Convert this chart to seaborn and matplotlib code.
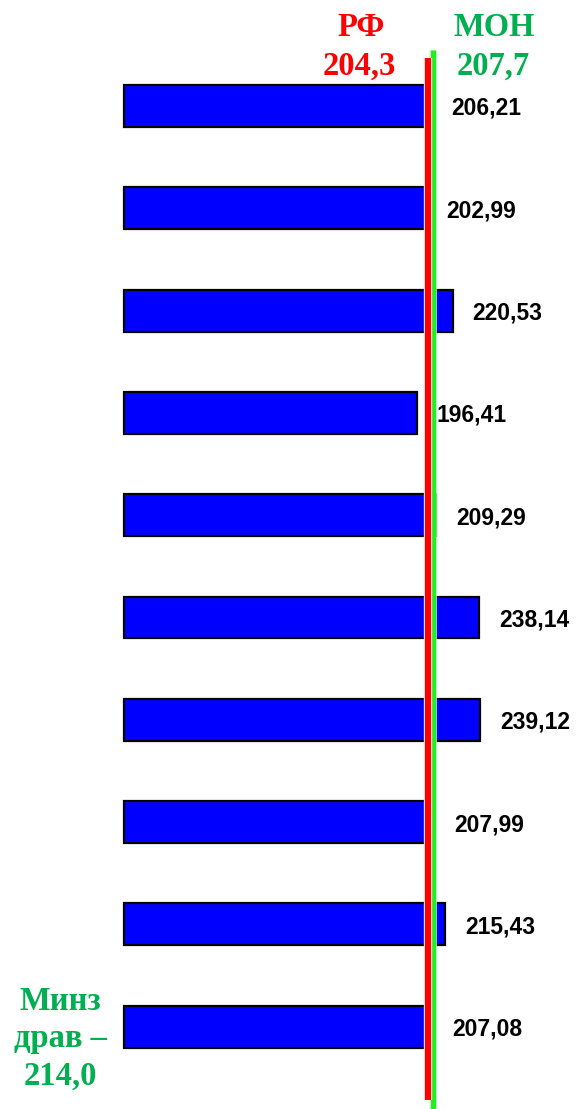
import matplotlib
matplotlib.use("Agg")
import matplotlib.pyplot as plt
import matplotlib.patheffects as pe
import seaborn as sns
import pandas as pd

# Data
groups = ["1", "2", "3", "4", "5", "6", "7", "8", "9", "10"]
values = [206.21, 202.99, 220.53, 196.41, 209.29, 238.14, 239.12, 207.99, 215.43, 207.08]
rf_value = 204.3
mon_value = 207.7
minzdrav_value = 214.0

df = pd.DataFrame({"group": groups, "value": values})

sns.set_theme(style="white")
plt.rcParams["font.family"] = ["Liberation Sans", "DejaVu Sans"]

W, H = 576, 1109
fig = plt.figure(figsize=(W / 100, H / 100), dpi=100)
ax = fig.add_axes([0, 0, 1, 1])

sns.barplot(data=df, x="value", y="group", orient="h", color="#0000FF",
            saturation=1, width=0.41, edgecolor="black", linewidth=1.6, ax=ax)

# scale: 1.4925 px per unit, zero at x=123.5 px; rows 102.3 px apart starting at y=106 px
ppu = 1.4925
x0 = 123.5
ax.set_xlim(-x0 / ppu, (W - x0) / ppu)
ax.set_ylim((H - 106) / 102.3, -106 / 102.3)
ax.axis("off")

# reference lines
halo = [pe.Stroke(linewidth=6.0, foreground="#FFE0E0"), pe.Normal()]
ax.plot([mon_value, mon_value], [-0.547, 9.81], color="#22EE22", lw=3.8,
        solid_capstyle="butt", zorder=5,
        path_effects=[pe.Stroke(linewidth=5.4, foreground="#D8FFD8"), pe.Normal()])
ax.plot([rf_value, rf_value], [-0.47, 9.717], color="#FF0000", lw=4.4,
        solid_capstyle="butt", zorder=6, path_effects=halo)

# value labels
def fmt(v, nd=2):
    return f"{v:.{nd}f}".replace(".", ",")

for i, v in enumerate(values):
    ax.annotate(fmt(v), xy=(v, i), xytext=(20, 0), textcoords="offset pixels",
                ha="left", va="center_baseline", fontsize=16.5, fontweight="bold",
                color="black", family=["Liberation Sans", "DejaVu Sans"])

serif = ["Liberation Serif", "DejaVu Serif"]
fig.text(361 / W, 1 - 27 / H, "РФ", color="#FF0000", fontsize=23.5,
         fontweight="bold", ha="center", va="center", family=serif)
fig.text(359 / W, 1 - 66 / H, fmt(rf_value, 1), color="#FF0000", fontsize=23.5,
         fontweight="bold", ha="center", va="center", family=serif)
fig.text(494 / W, 1 - 27 / H, "МОН", color="#00B050", fontsize=23.5,
         fontweight="bold", ha="center", va="center", family=serif)
fig.text(493 / W, 1 - 66 / H, fmt(mon_value, 1), color="#00B050", fontsize=23.5,
         fontweight="bold", ha="center", va="center", family=serif)
fig.text(60 / W, 1 - 1039 / H, "Минз\nдрав –\n" + fmt(minzdrav_value, 1),
         color="#00B050", fontsize=23.5, fontweight="bold", ha="center",
         va="center", linespacing=1.25, family=serif)

fig.savefig("out.png", dpi=100, facecolor="white")
